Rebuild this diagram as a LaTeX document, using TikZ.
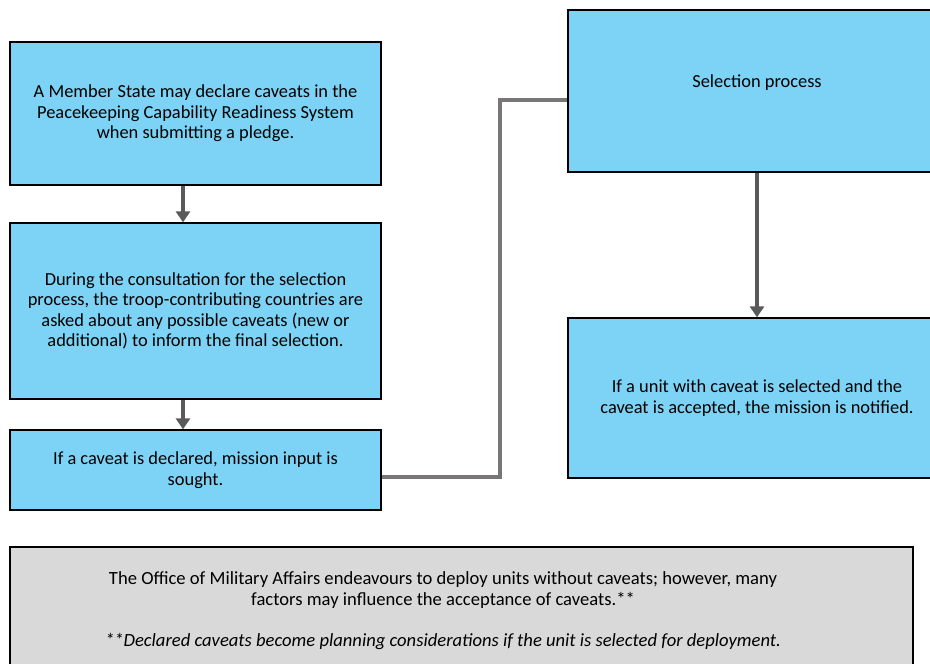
\documentclass[tikz,border=0pt]{standalone}
\usepackage{fontspec}
\setmainfont{Carlito}
\usetikzlibrary{arrows.meta}

\definecolor{boxblue}{RGB}{125,211,245}
\definecolor{notegray}{RGB}{217,217,217}
\definecolor{arrowgray}{RGB}{90,90,90}
\definecolor{linkgray}{RGB}{120,118,118}

\tikzset{%
  stepbox/.style={
    draw=black,
    line width=1.3pt,
    fill=boxblue,
    minimum width=371pt,
    inner sep=0pt,
    align=center,
    font=\fontsize{18.4}{20.5}\selectfont
  },
  flow/.style={
    draw=arrowgray,
    line width=4pt,
    -{Triangle[width=14pt,length=11pt]}
  },
}

\begin{document}
\begin{tikzpicture}[x=1pt, y=-1pt]
  \useasboundingbox (0,0) rectangle (930,664);
  \clip (0,0) rectangle (930,664);

  % left column
  \node [stepbox, minimum height=143pt] (declare) at (195.5,113.5)
    {A Member State may declare caveats in the\\
     Peacekeeping Capability Readiness System\\
     when submitting a pledge.};
  \node [stepbox, minimum height=176pt] (consult) at (195.5,311)
    {During the consultation for the selection\\
     process, the troop-contributing countries are\\
     asked about any possible caveats (new or\\
     additional) to inform the final selection.};
  \node [stepbox, minimum height=80pt] (input) at (195.5,470)
    {If a caveat is declared, mission input is\\
     sought.};

  % right column
  \node [stepbox, minimum height=162pt, minimum width=378pt] (select) at (757,91)
    {Selection process\\[0pt]~};
  \node [stepbox, minimum height=160pt, minimum width=378pt] (notify) at (757,398)
    {If a unit with caveat is selected and the\\
     caveat is accepted, the mission is notified.};

  % note at the bottom
  \node [draw=black, line width=1.3pt, fill=notegray, minimum width=903pt,
         minimum height=140pt, inner sep=0pt] (note) at (461.5,617) {};
  \node [align=center, inner sep=0pt, font=\fontsize{18.6}{20.5}\selectfont]
    (notetext) at (443,611)
    {The Office of Military Affairs endeavours to deploy units without caveats; however, many\\
     factors may influence the acceptance of caveats.**\\[21pt]
     \itshape **Declared caveats become planning considerations if the unit is selected for deployment.};

  % connectors
  \draw [flow] (declare.south -| 183,0) -- (consult.north -| 183,0);
  \draw [flow] (consult.south -| 183,0) -- (input.north -| 183,0);
  \draw [flow] (select) -- (notify);
  \draw [linkgray, line width=4pt] (input.east |- 0,477) -- (500,477)
    -- (500,100) -- (select.west |- 0,100);

\end{tikzpicture}
\end{document}
